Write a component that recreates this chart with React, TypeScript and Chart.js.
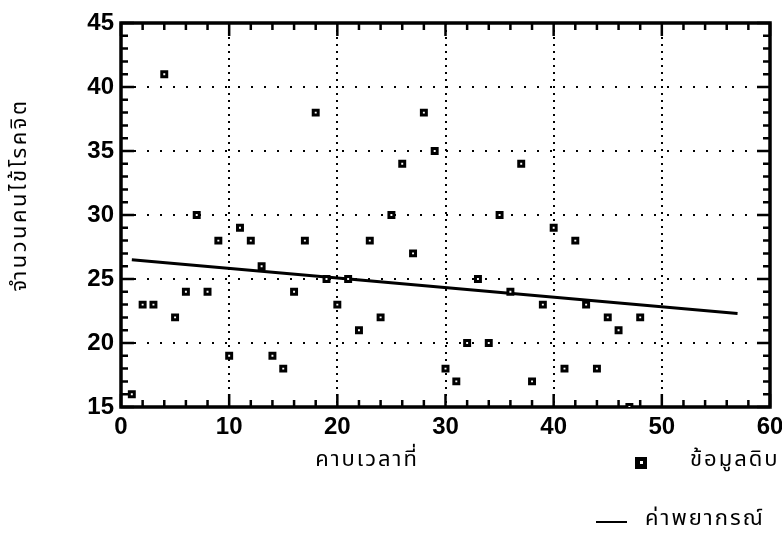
import { useEffect, useRef } from "react";
import { Chart, registerables } from "chart.js";

Chart.register(...registerables);

const periods = [1, 2, 3, 4, 5, 6, 7, 8, 9, 10, 11, 12, 13, 14, 15, 16, 17, 18, 19, 20, 21, 22, 23, 24, 25, 26, 27, 28, 29, 30, 31, 32, 33, 34, 35, 36, 37, 38, 39, 40, 41, 42, 43, 44, 45, 46, 47, 48];
const patients = [16, 23, 23, 41, 22, 24, 30, 24, 28, 19, 29, 28, 26, 19, 18, 24, 28, 38, 25, 23, 25, 21, 28, 22, 30, 34, 27, 38, 35, 18, 17, 20, 25, 20, 30, 24, 34, 17, 23, 29, 18, 28, 23, 18, 22, 21, 15, 22];
const forecastPeriods = [1, 57];
const forecastValues = [26.5, 22.3];
const xTicks = [0, 10, 20, 30, 40, 50, 60];
const yTicks = [15, 20, 25, 30, 35, 40, 45];
const xTitle = "คาบเวลาที่";
const yTitle = "จำนวนคนไข้โรคจิต";
const legendRaw = "ข้อมูลดิบ";
const legendForecast = "ค่าพยากรณ์";

const THAI_FONT = "'Noto Sans Thai', 'Loma', 'Garuda', 'Noto Sans', 'DejaVu Sans', sans-serif";
const TICK_FONT = { family: "'Liberation Sans', Arial, sans-serif", size: 24, weight: "bold" };

const decorPlugin = {
  id: "decor",
  beforeDatasetsDraw(chart: any) {
    const { ctx, chartArea } = chart;
    const xs = chart.scales.x;
    const ys = chart.scales.y;
    const { left, right, top, bottom } = chartArea;
    ctx.save();
    ctx.strokeStyle = "#000";
    ctx.lineWidth = 2.5;
    for (let v = 0; v <= 60; v += 2) {
      const px = xs.getPixelForValue(v);
      const len = v % 10 === 0 ? 13 : 7;
      ctx.beginPath();
      ctx.moveTo(px, bottom);
      ctx.lineTo(px, bottom - len);
      ctx.moveTo(px, top);
      ctx.lineTo(px, top + len);
      ctx.stroke();
    }
    for (let v = 15; v <= 45; v += 1) {
      const py = ys.getPixelForValue(v);
      const len = v % 5 === 0 ? 13 : 7;
      ctx.beginPath();
      ctx.moveTo(left, py);
      ctx.lineTo(left + len, py);
      ctx.moveTo(right, py);
      ctx.lineTo(right - len, py);
      ctx.stroke();
    }
    ctx.lineWidth = 3.5;
    ctx.strokeRect(left, top, right - left, bottom - top);
    ctx.restore();
  },
  afterDraw(chart: any) {
    const { ctx } = chart;
    ctx.save();
    ctx.fillStyle = "#000";
    ctx.font = `22px ${THAI_FONT}`;
    (ctx as any).letterSpacing = "2px";
    ctx.textBaseline = "middle";
    ctx.textAlign = "center";
    ctx.fillText(xTitle, 367, 462);
    ctx.save();
    ctx.translate(22, 195);
    ctx.rotate(-Math.PI / 2);
    (ctx as any).letterSpacing = "2.5px";
    ctx.fillText(yTitle, 0, 0);
    ctx.restore();
    ctx.fillRect(635, 457, 12, 12);
    ctx.fillStyle = "#fff";
    ctx.fillRect(640, 461, 3, 3);
    ctx.fillStyle = "#000";
    ctx.textAlign = "left";
    ctx.fillText(legendRaw, 690, 462);
    ctx.strokeStyle = "#000";
    ctx.lineWidth = 2;
    ctx.beginPath();
    ctx.moveTo(596, 522);
    ctx.lineTo(627, 522);
    ctx.stroke();
    ctx.fillText(legendForecast, 645, 521);
    ctx.restore();
  },
};

export default function App() {
  const ref = useRef<HTMLCanvasElement | null>(null);
  useEffect(() => {
    if (!ref.current) return;
    const chart = new Chart(ref.current, {
      type: "scatter",
      data: {
        datasets: [
          {
            label: legendRaw,
            data: periods.map((p, i) => ({ x: p, y: patients[i] })),
            pointStyle: "rect",
            pointRadius: 3.5,
            backgroundColor: "#fff",
            borderColor: "#000",
            borderWidth: 3,
            showLine: false,
          },
          {
            label: legendForecast,
            data: forecastPeriods.map((p, i) => ({ x: p, y: forecastValues[i] })),
            showLine: true,
            borderColor: "#000",
            borderWidth: 3,
            pointRadius: 0,
            fill: false,
          },
        ],
      },
      options: {
        animation: false,
        responsive: false,
        devicePixelRatio: 1,
        layout: { padding: { left: 0, top: 23, right: 0, bottom: 0 } },
        plugins: { legend: { display: false }, tooltip: { enabled: false } },
        scales: {
          x: {
            type: "linear",
            min: 0,
            max: 60,
            afterBuildTicks: (s: any) => {
              s.ticks = xTicks.map((v) => ({ value: v }));
            },
            afterFit: (s: any) => {
              s.height = 143;
              s.paddingRight = 12;
            },
            grid: { color: "#000", lineWidth: 2, drawTicks: false },
            border: { display: false, dash: [2, 5] },
            ticks: {
              color: "#000",
              padding: 6,
              maxRotation: 0,
              font: TICK_FONT,
            },
          },
          y: {
            type: "linear",
            min: 15,
            max: 45,
            afterBuildTicks: (s: any) => {
              s.ticks = yTicks.map((v) => ({ value: v }));
            },
            afterFit: (s: any) => {
              s.width = 121;
            },
            grid: { color: "#000", lineWidth: 2, drawTicks: false },
            border: { display: false, dash: [2, 11] },
            ticks: {
              color: "#000",
              padding: 7,
              font: TICK_FONT,
            },
          },
        },
      },
      plugins: [decorPlugin],
    } as any);
    return () => chart.destroy();
  }, []);
  return (
    <div style={{ position: "fixed", left: 0, top: 0, width: 782, height: 550, background: "#fff" }}>
      <canvas ref={ref} width={782} height={550} />
    </div>
  );
}
